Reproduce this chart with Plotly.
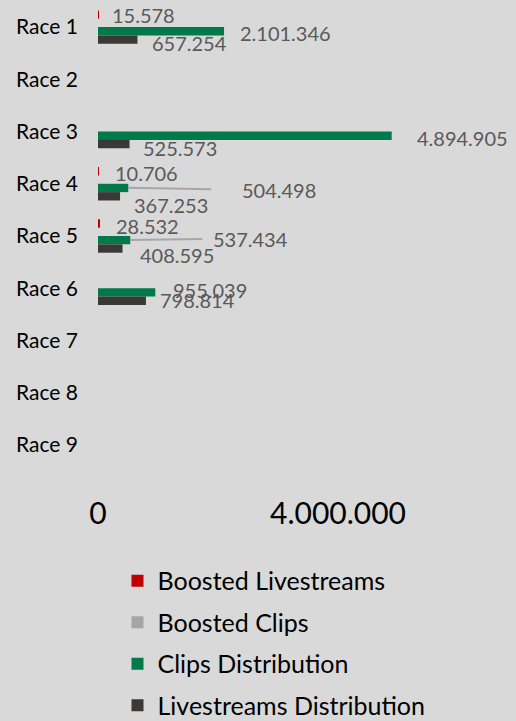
import plotly.graph_objects as go

# ---------------- data ----------------
categories = ["Race 1", "Race 2", "Race 3", "Race 4", "Race 5",
              "Race 6", "Race 7", "Race 8", "Race 9"]
boosted_livestreams = [15578, None, None, 10706, 28532, None, None, None, None]
boosted_clips = [None, None, None, None, None, None, None, None, None]
clips_distribution = [2101346, None, 4894905, 504498, 537434, 955039, None, None, None]
livestreams_distribution = [657254, None, 525573, 367253, 408595, 798814, None, None, None]

x_tick_values = [0, 4000000]

series_names = ["Boosted Livestreams", "Boosted Clips",
                "Clips Distribution", "Livestreams Distribution"]

# ---------------- styles / label placement (pixels) ----------------
colors = ["#C00000", "#A6A6A6", "#007A4B", "#3B3838"]
slot_offsets = [-0.32, -0.16, 0.0, 0.16]
slot_width = 0.16

# per-category label offsets (dx, dy) in pixels, dy positive = down
red_label_off = [(45, -12), None, None, (48, -11), (48, -10), None, None, None, None]
green_label_off = [(14, 6), None, (23, 6), (112, 6), (81, 3), (16, 2), None, None, None]
green_leader = [False, False, False, True, True, False, False, False, False]
green_leader_gap = [0, 0, 0, 29, 9, 0, 0, 0, 0]
dark_label_off = [(52, 16), None, (50, 16), (51, 21), (54, 19), (52, 12), None, None, None]

FONT = "Lato"
LABEL_COLOR = "#595959"
LABEL_SIZE = 20


def fmt(v):
    return f"{v:,}".replace(",", ".")


fig = go.Figure()
all_series = [boosted_livestreams, boosted_clips, clips_distribution, livestreams_distribution]
for i, (name, vals) in enumerate(zip(series_names, all_series)):
    fig.add_trace(go.Bar(
        x=vals, y=categories, orientation="h", name=name,
        marker=dict(color=colors[i], line=dict(width=0)),
        offset=slot_offsets[i], width=slot_width,
        legendgroup=name, hoverinfo="x+name",
    ))

annotations = []
for c, v, off in zip(categories, boosted_livestreams, red_label_off):
    if v is None or off is None:
        continue
    annotations.append(dict(x=v, y=c, xref="x", yref="y", text=fmt(v),
                            showarrow=False, xanchor="center", yanchor="middle",
                            xshift=off[0], yshift=-off[1],
                            font=dict(family=FONT, size=LABEL_SIZE, color=LABEL_COLOR)))

for c, v, off, lead, gap in zip(categories, clips_distribution, green_label_off,
                                green_leader, green_leader_gap):
    if v is None or off is None:
        continue
    if lead:
        annotations.append(dict(x=v, y=c, xref="x", yref="y", text=fmt(v),
                                showarrow=True, arrowhead=0, arrowwidth=2,
                                arrowcolor="#A6A6A6", ax=off[0], ay=off[1] - 4,
                                yshift=-4, startstandoff=gap,
                                xanchor="left", yanchor="middle",
                                font=dict(family=FONT, size=LABEL_SIZE, color=LABEL_COLOR)))
    else:
        annotations.append(dict(x=v, y=c, xref="x", yref="y", text=fmt(v),
                                showarrow=False, xanchor="left", yanchor="middle",
                                xshift=off[0], yshift=-off[1],
                                font=dict(family=FONT, size=LABEL_SIZE, color=LABEL_COLOR)))

for c, v, off in zip(categories, livestreams_distribution, dark_label_off):
    if v is None or off is None:
        continue
    annotations.append(dict(x=v, y=c, xref="x", yref="y", text=fmt(v),
                            showarrow=False, xanchor="center", yanchor="middle",
                            xshift=off[0], yshift=-off[1],
                            font=dict(family=FONT, size=LABEL_SIZE, color=LABEL_COLOR)))

fig.update_layout(
    width=516, height=721,
    margin=dict(l=98, r=28, t=1, b=250, autoexpand=False),
    paper_bgcolor="#D9D9D9", plot_bgcolor="#D9D9D9",
    barmode="overlay",
    font=dict(family=FONT, color="#000000"),
    annotations=annotations,
    legend=dict(
        orientation="v", xref="paper", yref="paper",
        x=0.05, y=-0.185, xanchor="left", yanchor="top",
        font=dict(family=FONT, size=25, color="#000000"),
        tracegroupgap=6, bgcolor="rgba(0,0,0,0)", traceorder="grouped",
    ),
    showlegend=True,
)
fig.update_xaxes(
    range=[0, 6500000], tickvals=x_tick_values,
    ticktext=[fmt(v) for v in x_tick_values],
    showgrid=False, zeroline=False, showline=False,
    ticks="", ticklabelstandoff=22, tickangle=0,
    tickfont=dict(family=FONT, size=30, color="#000000"),
)
fig.update_yaxes(
    type="category", categoryorder="array", categoryarray=categories,
    range=[8.5, -0.5], showgrid=False, zeroline=False, showline=False,
    ticks="", ticklabelstandoff=19,
    tickfont=dict(family=FONT, size=21, color="#000000"),
)

fig.write_html(
    "out.html",
    config={"displayModeBar": False},
    post_script="document.body.style.margin='0';document.body.style.padding='0';"
                "document.documentElement.style.background='#D9D9D9';",
)
